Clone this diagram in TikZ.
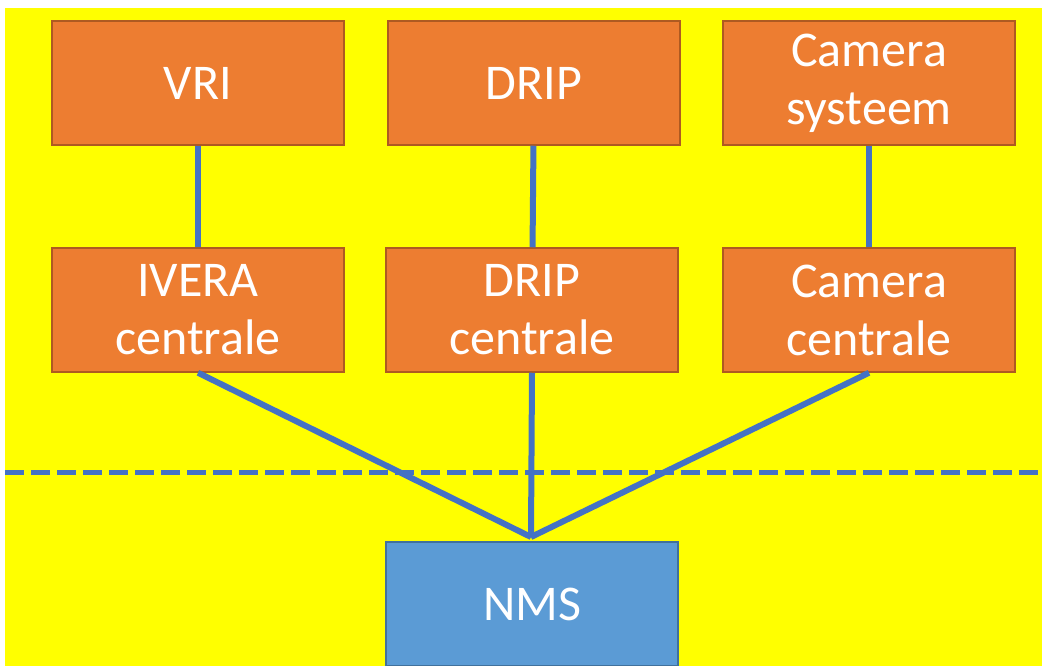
\documentclass[tikz,border=0pt]{standalone}
\usepackage{fontspec}
\setmainfont{Carlito}
\definecolor{boxorange}{HTML}{ED7D31}
\definecolor{boxedge}{HTML}{AE5A21}
\definecolor{nmsblue}{HTML}{5B9BD5}
\definecolor{nmsedge}{HTML}{41719C}
\definecolor{linkblue}{HTML}{4472C4}
\definecolor{bgyellow}{HTML}{FFFF00}
\begin{document}
\begin{tikzpicture}[x=1pt, y=1pt,
	unit/.style={draw=boxedge, line width=1.5pt, fill=boxorange, text=white,
		minimum width=292pt, minimum height=124pt, inner sep=0pt, align=center,
		font=\fontsize{50}{58}\selectfont},
	nms/.style={unit, draw=nmsedge, fill=nmsblue},
	link/.style={draw=linkblue, line width=6pt},
	border/.style={draw=linkblue, line width=5pt, dash pattern=on 19pt off 7pt}]
	\useasboundingbox (0,0) rectangle (1042,-666);
	\fill[white] (0,0) rectangle (1042,-666);
	\fill[bgyellow] (5,-8) rectangle (1042,-666);
	% top row
	\node[unit] (vri) at (198,-83) {VRI};
	\node[unit] (drip) at (534,-83) {DRIP};
	\node[unit] (camsys) at (869,-83) {Camera\\systeem};
	% centrales
	\node[unit] (ivera) at (198,-310) {IVERA\\centrale};
	\node[unit] (dripc) at (532,-310) {DRIP\\centrale};
	\node[unit] (camc) at (869,-310) {Camera\\centrale};
	\node[nms] (nms) at (532,-604) {NMS};
	\coordinate (join) at (531,-537);
	\coordinate (sepL) at (5,-472);
	\coordinate (sepR) at (1042,-472);
	\draw[link] (vri) -- (ivera);
	\draw[link] (drip) -- (dripc);
	\draw[link] (camsys) -- (camc);
	\draw[link] (ivera.south) -- (join);
	\draw[link] (dripc.south) -- (join);
	\draw[link] (camc.south) -- (join);
	\draw[border] (sepL) -- (sepR);
\end{tikzpicture}
\end{document}
